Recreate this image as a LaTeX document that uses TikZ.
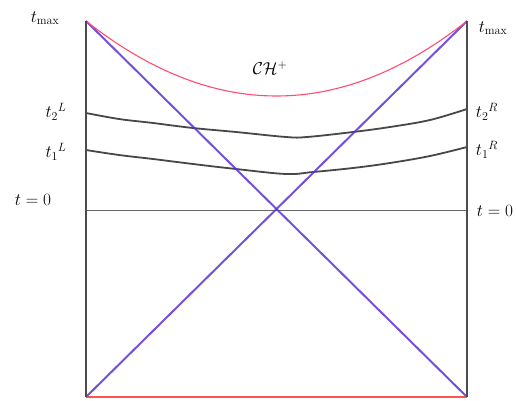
\documentclass[tikz,border=0pt]{standalone}
\begin{document}
\begin{tikzpicture}[x=1pt,y=-1pt,
  edge/.style={draw=black!70,line width=2.2pt},
  lightray/.style={draw=blue!60!violet!80,line width=2pt,opacity=0.85},
  slice/.style={draw=black!72,line width=1.8pt},
  lbl/.style={font=\fontsize{18}{21}\selectfont,inner sep=0pt}]
\useasboundingbox (0,0) rectangle (516,401);
\coordinate (TL) at (86,21);
\coordinate (TR) at (467,21);
\coordinate (BL) at (86,397);
\coordinate (BR) at (467,397);
\coordinate (ZL) at (86,210);
\coordinate (ZR) at (467,210);
% t=0 slice
\draw[black!60,line width=0.9pt] (ZL) -- (ZR);
% time slices
\draw[slice] plot[smooth,tension=0.6] coordinates {(86,113) (119,119) (153,123) (193,128) (236,132) (286,137) (307,137) (353,132) (390,127) (430,120) (467,109)};
\draw[slice] plot[smooth,tension=0.6] coordinates {(86,150) (119,155) (153,159) (193,164) (236,169) (286,174) (313,172) (353,168) (390,163) (430,156) (467,147)};
% light rays
\draw[lightray] (TL) -- (BR);
\draw[lightray] (BL) -- (TR);
% Cauchy horizon
\draw[red!80!magenta!70,line width=1.1pt] (TL) .. controls (213,121) and (340,121) .. (TR);
% singularity at bottom
\draw[red!75,line width=2.4pt,opacity=0.9] (BL) -- (BR);
% boundaries
\draw[edge] (TL) -- (BL);
\draw[edge] (TR) -- (BR);
% labels
\node[lbl] (tmaxL) at (45,18) {$t_{\max}$};
\node[lbl] (tmaxR) at (493,28) {$t_{\max}$};
\node[lbl] (ch) at (270,68) {$\mathcal{C}\mathcal{H}^{+}$};
\node[lbl] (t2L) at (56,112) {$t_2{}^L$};
\node[lbl] (t1L) at (56,152) {$t_1{}^L$};
\node[lbl] (t0L) at (33,200) {$t=0$};
\node[lbl] (t2R) at (487,112) {$t_2{}^R$};
\node[lbl] (t1R) at (487,150) {$t_1{}^R$};
\node[lbl] (t0R) at (495,211) {$t=0$};
\end{tikzpicture}
\end{document}
